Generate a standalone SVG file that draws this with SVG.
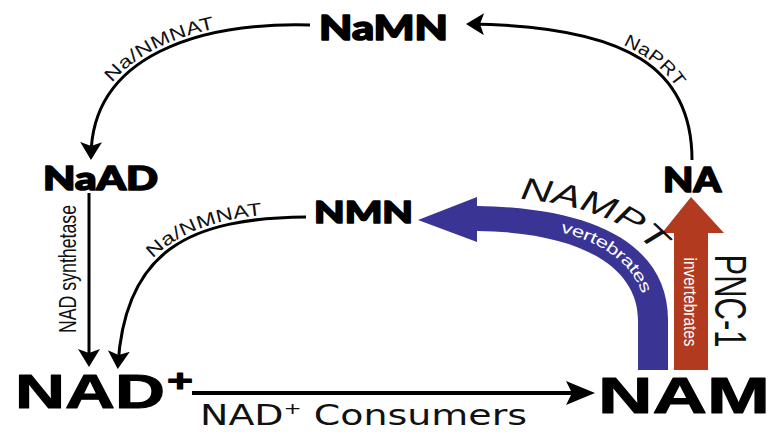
<svg xmlns="http://www.w3.org/2000/svg" width="771" height="432" viewBox="0 0 771 432">
<style>
.heavy{font-family:Lato,"DejaVu Sans",sans-serif;font-weight:900;fill:#000;stroke:#000;stroke-width:1.6;stroke-linejoin:round}
.big{font-family:"Liberation Sans",Arial,sans-serif;font-weight:bold;fill:#000;stroke:#000;stroke-width:1;stroke-linejoin:round}
.lbl{font-family:"Liberation Sans",Arial,sans-serif;font-size:18px;fill:#111}
.wlbl{font-family:"Liberation Sans",Arial,sans-serif;fill:#fff}
.line{fill:none;stroke:#000;stroke-width:3}
</style>
<defs>
<marker id="arr" markerUnits="userSpaceOnUse" viewBox="0 0 18 22" refX="14" refY="11" markerWidth="18" markerHeight="22" orient="auto">
<path d="M0,0 L18,11 L0,22 L4,11 Z" fill="#000"/>
</marker>
<path id="tp1" d="M90,156 C92,55 200,22 310,25"/>
<path id="tp2" d="M118,365 C125,250 190,218 306,217"/>
<path id="tp3" d="M470,24 C630,26 692,70 692,160"/>
<path id="tp4" d="M470,196 C614,198 678,243 678,320"/>
<path id="tp5" d="M477,218 C600,219 653,259 653,330"/>
</defs>

<g id="connectors">
<path class="line" d="M310,25 C200,22 92,55 91,156" marker-end="url(#arr)"/>
<path class="line" d="M89,193 L89,363" marker-end="url(#arr)"/>
<path class="line" d="M306,217 C190,218 125,250 118,365" marker-end="url(#arr)"/>
<path class="line" d="M692,160 C692,70 630,26 470,24" marker-end="url(#arr)"/>
<line x1="192" y1="393" x2="572" y2="393" stroke="#000" stroke-width="4"/>
<path d="M566,381 L595,393 L566,405 L572,393 Z" fill="#000"/>
<path id="nampt-arrow" d="M638,370 L638,320 C638,268 582,232 477,231 L477,242 L418,220 L477,197 L477,206 C604,208 668,250 668,320 L668,370 Z" fill="#3a3595"/>
<path id="pnc1-arrow" d="M674,370 L674,233 L662,233 L691,197 L724,233 L708,233 L708,370 Z" fill="#b23a1e"/>
<text class="lbl" dy="-4"><textPath href="#tp1" startOffset="76" textLength="116" lengthAdjust="spacingAndGlyphs">Na/NMNAT</textPath></text>
<text class="lbl" dy="-4"><textPath href="#tp2" startOffset="112" textLength="118" lengthAdjust="spacingAndGlyphs">Na/NMNAT</textPath></text>
<text class="lbl" dy="-4"><textPath href="#tp3" startOffset="154" textLength="68" lengthAdjust="spacingAndGlyphs">NaPRT</textPath></text>
<text class="lbl" transform="translate(76,269) rotate(-90)" text-anchor="middle" textLength="128" lengthAdjust="spacingAndGlyphs" style="font-size:23px">NAD synthetase</text>
<text style="font-family:'Liberation Sans',Arial,sans-serif;font-style:italic;font-size:31px;fill:#111"><textPath href="#tp4" startOffset="50" textLength="150" lengthAdjust="spacingAndGlyphs">NAMPT</textPath></text>
<text class="wlbl" style="font-size:16px" dy="5"><textPath href="#tp5" startOffset="85" textLength="112" lengthAdjust="spacingAndGlyphs">vertebrates</textPath></text>
<text class="wlbl" style="font-size:18px" transform="translate(684,302) rotate(90)" text-anchor="middle" textLength="89" lengthAdjust="spacingAndGlyphs">invertebrates</text>
<text style="font-family:'Liberation Sans',Arial,sans-serif;font-size:44px;fill:#111" transform="translate(715,301) rotate(90)" text-anchor="middle" textLength="93" lengthAdjust="spacingAndGlyphs">PNC-1</text>
<text style="font-family:'DejaVu Sans',sans-serif;font-size:28px;fill:#111" x="200" y="425" textLength="327" lengthAdjust="spacingAndGlyphs">NAD<tspan dy="-11" style="font-size:16px">+</tspan><tspan dy="11"> Consumers</tspan></text>
</g>

<g id="NaMN"><text class="heavy" x="319" y="40" style="font-size:34px" textLength="129" lengthAdjust="spacingAndGlyphs">NaMN</text></g>
<g id="NaAD"><text class="heavy" x="43" y="190" style="font-size:32px" textLength="115" lengthAdjust="spacingAndGlyphs">NaAD</text></g>
<g id="NA"><text class="heavy" x="663" y="192" style="font-size:34px" textLength="58" lengthAdjust="spacingAndGlyphs">NA</text></g>
<g id="NMN"><text class="heavy" x="314" y="223" style="font-size:31px" textLength="99" lengthAdjust="spacingAndGlyphs">NMN</text></g>
<g id="NAD"><text class="big" x="15" y="408" style="font-size:48px" textLength="150" lengthAdjust="spacingAndGlyphs">NAD</text><text class="big" x="167" y="391" style="font-size:32px" textLength="26" lengthAdjust="spacingAndGlyphs">+</text></g>
<g id="NAM"><text class="big" x="598" y="413" style="font-size:50px" textLength="172" lengthAdjust="spacingAndGlyphs">NAM</text></g>
</svg>
